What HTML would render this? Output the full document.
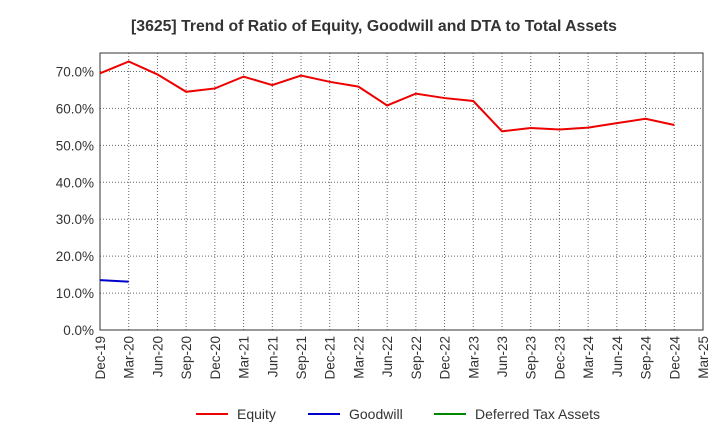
<!DOCTYPE html>
<html><head><meta charset="utf-8"><style>
body{margin:0;background:#fff;font-family:"Liberation Sans",sans-serif}
svg text{font-family:"Liberation Sans",sans-serif}
</style></head><body>
<svg id="c" width="720" height="440">
<text x="374" y="31" text-anchor="middle" font-size="15.8" font-weight="bold" fill="#333">[3625]  Trend of Ratio of Equity, Goodwill and DTA to Total Assets</text>
<g id="grid"></g><g id="axes"></g><g id="series"></g>
<g>
<line x1="196" y1="414" x2="228" y2="414" stroke="#e00" stroke-width="2"/><text x="237" y="419" font-size="14" fill="#333">Equity</text>
<line x1="308" y1="414" x2="340" y2="414" stroke="#00c" stroke-width="2"/><text x="349" y="419" font-size="14" fill="#333">Goodwill</text>
<line x1="434" y1="414" x2="466" y2="414" stroke="#080" stroke-width="2"/><text x="475" y="419" font-size="14" fill="#333">Deferred Tax Assets</text>
</g>
</svg>
<script>
const categories=["Dec-19","Mar-20","Jun-20","Sep-20","Dec-20","Mar-21","Jun-21","Sep-21","Dec-21","Mar-22","Jun-22","Sep-22","Dec-22","Mar-23","Jun-23","Sep-23","Dec-23","Mar-24","Jun-24","Sep-24","Dec-24","Mar-25"];
const equity=[69.5,72.7,69.2,64.5,65.4,68.6,66.3,68.9,67.2,65.9,60.8,64.0,62.8,62.0,53.8,54.7,54.3,54.8,56.0,57.2,55.5];
const goodwill=[13.5,13.1];
const yTicks=[0,10,20,30,40,50,60,70];
const NS="http://www.w3.org/2000/svg";
const L=100,R=703,T=53,B=330,YMAX=75;
const x=i=>L+(R-L)*i/(categories.length-1);
const y=v=>B-(B-T)*v/YMAX;
function mk(tag,attrs,parent){const e=document.createElementNS(NS,tag);for(const k in attrs)e.setAttribute(k,attrs[k]);document.getElementById(parent).appendChild(e);return e;}
categories.forEach((c,i)=>{
 const g=mk("line",{x1:x(i),x2:x(i),y1:T,y2:B,stroke:"#666","stroke-dasharray":"1,2"},"grid");
 
 
 const t=mk("text",{transform:`translate(${x(i)+5},${B+6}) rotate(-90)`,"text-anchor":"end","font-size":"13.5",fill:"#333"},"axes");
 t.textContent=c;
 
 
});
yTicks.forEach(v=>{
 const g=mk("line",{x1:L,x2:R,y1:y(v),y2:y(v),stroke:"#666","stroke-dasharray":"1,2"},"grid");
 
 
 const t=mk("text",{x:L-6,y:y(v)+5,"text-anchor":"end","font-size":"13.5",fill:"#333"},"axes");
 t.textContent=v.toFixed(1)+"%";
 
 
});
const frame=mk("rect",{x:L,y:T,width:R-L,height:B-T,fill:"none",stroke:"#333"},"axes");


const e=mk("polyline",{points:equity.map((v,i)=>x(i)+","+y(v)).join(" "),fill:"none",stroke:"#e00","stroke-width":"2"},"series");


const g=mk("polyline",{points:goodwill.map((v,i)=>x(i)+","+y(v)).join(" "),fill:"none",stroke:"#00c","stroke-width":"2"},"series");


</script>
</body></html>
